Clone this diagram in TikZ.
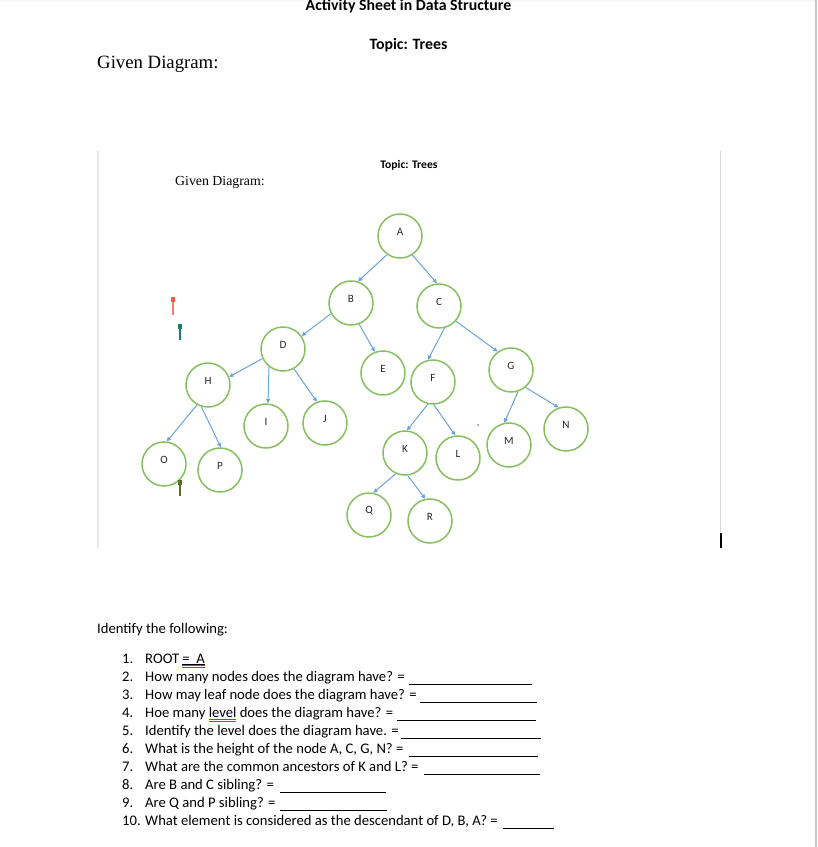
\documentclass[tikz,border=0pt]{standalone}
\usepackage{fontspec}
\setmainfont{Carlito}
\newfontfamily\docserif{Liberation Serif}
\usetikzlibrary{arrows.meta, calc}

\definecolor{leafgreen}{RGB}{134,192,96}
\definecolor{linkblue}{RGB}{104,163,222}
\definecolor{markblue}{RGB}{60,95,215}
\definecolor{pinred}{RGB}{242,92,70}
\definecolor{pinteal}{RGB}{22,128,112}
\definecolor{pinolive}{RGB}{88,110,36}

% blue double line that Word puts under a flagged word
\newsavebox\markbox
\newcommand{\wordmark}[1]{\sbox\markbox{#1}%
  \makebox[0pt][l]{\textcolor{markblue}{\rule[-2.5pt]{\wd\markbox}{0.45pt}}}%
  \makebox[0pt][l]{\textcolor{markblue}{\rule[-3.8pt]{\wd\markbox}{0.45pt}}}#1}

\begin{document}
\begin{tikzpicture}[
  x=0.03cm, y=-0.03cm,
  vtx/.style={circle, draw=leafgreen, line width=1.3pt, minimum size=1.32cm, inner sep=0pt,
              label={[font=\fontsize{9.5}{10}\selectfont, text=black!85, yshift=0.12cm]center:#1}},
  edge/.style={draw=linkblue, line width=0.85pt, -{Triangle[length=3.6pt, width=3.4pt]}},
  qtext/.style={anchor=base west, inner sep=0pt, font=\fontsize{12.5}{15}\selectfont},
  blank/.style={line width=0.8pt},
  pin/.style={line width=1.3pt}
]
\useasboundingbox (0,0) rectangle (817,847);

% --- page edges ---
\fill[gray!6] (0,0) rectangle (817,2);
\draw[gray!45, line width=1.2pt] (816,0) -- (816,847);

% --- header ---
\node[anchor=base, inner sep=0pt, font=\bfseries\fontsize{13.5}{16}\selectfont] (title) at (408.5,11) {Activity Sheet in Data Structure};
\node[anchor=base, inner sep=0pt, font=\bfseries\fontsize{13.5}{16}\selectfont] (topic) at (408.5,50) {Topic: Trees};
\node[anchor=base west, inner sep=0pt, font=\docserif\fontsize{16}{19}\selectfont] (given) at (97,69) {Given Diagram:};

% --- pasted picture frame ---
\draw[gray!18, line width=1.7pt] (98,151) -- (98,548);
\draw[gray!30, line width=0.6pt] (720,151) -- (720,533);
\draw[black, line width=1.2pt] (721,533) -- (721,548);

\node[anchor=base, inner sep=0pt, font=\bfseries\fontsize{9.9}{12}\selectfont] (innertopic) at (409,169) {Topic: Trees};
\node[anchor=base west, inner sep=0pt, font=\docserif\fontsize{11.8}{14}\selectfont] (innergiven) at (175,186) {Given Diagram:};

% --- tree nodes ---
\node[vtx=A] (A) at (400,236) {};
\node[vtx=B] (B) at (351,303) {};
\node[vtx=C] (C) at (439,306) {};
\node[vtx=D] (D) at (283,349) {};
\node[vtx=E] (E) at (383,373) {};
\node[vtx=F] (F) at (433,382) {};
\node[vtx=G] (G) at (511,370) {};
\node[vtx=H] (H) at (208,385) {};
\node[vtx=I] (I) at (266,426) {};
\node[vtx=J] (J) at (325,423) {};
\node[vtx=K] (K) at (405,453) {};
\node[vtx=L] (L) at (458,458) {};
\node[vtx=M] (M) at (509,445) {};
\node[vtx=N] (N) at (566,429) {};
\node[vtx=O] (O) at (164,464) {};
\node[vtx=P] (P) at (220,470) {};
\node[vtx=Q] (Q) at (369,515) {};
\node[vtx=R] (R) at (430,521) {};

% --- parent -> child ---
\draw[edge] (A.235) -- (B.72);
\draw[edge] (A.303) -- (C.95);
\draw[edge] (B.208) -- (D.35);
\draw[edge] (B.291) -- (E.111);
\draw[edge] (C.284) -- (F.103);
\draw[edge] (C.318) -- (G.126);
\draw[edge] (D.205) -- (H.21);
\draw[edge] (D.232) -- (I.85);
\draw[edge] (D.299) -- (J.111);
\draw[edge] (H.241) -- (O.83);
\draw[edge] (H.253) -- (P.88);
\draw[edge] (F.257) -- (K.85);
\draw[edge] (F.272) -- (L.97);
\draw[edge] (G.288) -- (M.102);
\draw[edge] (G.310) -- (N.109);
\draw[edge] (K.246) -- (Q.79);
\draw[edge] (K.277) -- (R.102);

% --- stray marks in the picture ---
\fill[pinred] (171,297) rectangle (175,302);
\draw[pinred!80, pin] (173,302) -- (173,315);
\fill[pinteal] (178,324) rectangle (182,329);
\draw[pinteal, pin] (180,329) -- (180,340);
\fill[pinolive] (178,480) rectangle (182,485);
\draw[pinolive, pin] (180,485) -- (180,496);
\fill[markblue] (478,425) circle (0.8);

% --- questions ---
\node[qtext] (ident) at (97,633) {Identify the following:};
\foreach \k in {1,...,10}
  \node[qtext] (n\k) at (122,645+18*\k) {\k.};

\node[qtext] (q1) at (145,663) {ROOT \wordmark{\underline{=\ \ A}}};
\node[qtext] (q2) at (145,681) {How many nodes does the diagram have? =};
\node[qtext] (q3) at (145,699) {How may leaf node does the diagram have? =};
\node[qtext] (q4) at (145,717) {Hoe many \wordmark{level} does the diagram have? =};
\node[qtext] (q5) at (145,735) {Identify the level does the diagram have. =};
\node[qtext] (q6) at (145,753) {What is the height of the node A, C, G, N? =};
\node[qtext] (q7) at (145,771) {What are the common ancestors of K and L? =};
\node[qtext] (q8) at (145,789) {Are B and C sibling? =};
\node[qtext] (q9) at (145,807) {Are Q and P sibling? =};
\node[qtext] (q10) at (145,825) {What element is considered as the descendant of D, B, A? =};

% answer blanks
\draw[blank] ([shift={(4,3)}]q2.base east) -- (532,684);
\draw[blank] ([shift={(3,3)}]q3.base east) -- (537,702);
\draw[blank] ([shift={(4,3)}]q4.base east) -- (536,720);
\draw[blank] ([shift={(2,3)}]q5.base east) -- (541,738);
\draw[blank] ([shift={(5,3)}]q6.base east) -- (538,756);
\draw[blank] ([shift={(5,3)}]q7.base east) -- (540,774);
\draw[blank] ([shift={(6,3)}]q8.base east) -- (386,792);
\draw[blank] ([shift={(4,3)}]q9.base east) -- (387,810);
\draw[blank] ([shift={(5,3)}]q10.base east) -- (554,828);

\end{tikzpicture}
\end{document}
